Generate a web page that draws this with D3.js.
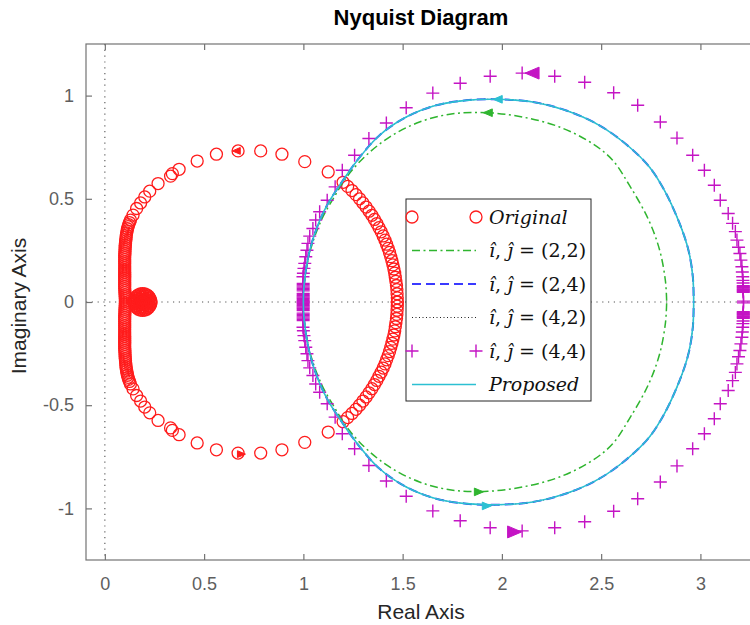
<!DOCTYPE html>
<html>
<head>
<meta charset="utf-8">
<script src="https://cdn.jsdelivr.net/npm/d3@7"></script>
<style>
  body { margin: 0; background: #fff; }
  svg { display: block; }
</style>
</head>
<body>
<svg id="chart" width="750" height="625"></svg>
<script>
"use strict";

// axis ticks
const x_ticks = [0, 0.5, 1, 1.5, 2, 2.5, 3];
const y_ticks = [-1, -0.5, 0, 0.5, 1];

// Original response, upper branch as [re, im]; lower branch is the mirror
const original = [
  [1.473, 0.000], [1.473, 0.020], [1.472, 0.040], [1.471, 0.060], [1.469, 0.080],
  [1.466, 0.100], [1.463, 0.120], [1.460, 0.140], [1.456, 0.160], [1.451, 0.180],
  [1.446, 0.200], [1.440, 0.220], [1.434, 0.240], [1.427, 0.260], [1.419, 0.280],
  [1.411, 0.300], [1.402, 0.320], [1.392, 0.340], [1.381, 0.360], [1.370, 0.380],
  [1.358, 0.400], [1.345, 0.420], [1.331, 0.440], [1.316, 0.460], [1.300, 0.480],
  [1.283, 0.500], [1.265, 0.520], [1.245, 0.540], [1.223, 0.560], [1.200, 0.580],
  [1.125, 0.630], [1.007, 0.680], [0.892, 0.716], [0.785, 0.732], [0.671, 0.732],
  [0.562, 0.716], [0.465, 0.683], [0.374, 0.643], [0.340, 0.622], [0.331, 0.610],
  [0.268, 0.574], [0.226, 0.537], [0.201, 0.509], [0.180, 0.480], [0.160, 0.453],
  [0.142, 0.421], [0.129, 0.397], [0.124, 0.385], [0.120, 0.375], [0.117, 0.365],
  [0.114, 0.355], [0.112, 0.345], [0.110, 0.335], [0.108, 0.325], [0.107, 0.315],
  [0.106, 0.305], [0.105, 0.295], [0.104, 0.285], [0.103, 0.275], [0.102, 0.265],
  [0.102, 0.255], [0.101, 0.245], [0.101, 0.235], [0.100, 0.225], [0.100, 0.215],
  [0.100, 0.205], [0.100, 0.195], [0.100, 0.185], [0.100, 0.175], [0.100, 0.165],
  [0.100, 0.155], [0.100, 0.145], [0.100, 0.135], [0.100, 0.125], [0.100, 0.115],
  [0.100, 0.105], [0.100, 0.095], [0.100, 0.085], [0.100, 0.075], [0.100, 0.065],
  [0.101, 0.055], [0.101, 0.045], [0.102, 0.035], [0.102, 0.025], [0.103, 0.015],
  [0.103, 0.005], [0.148, 0.000], [0.149, 0.010], [0.154, 0.020], [0.160, 0.028],
  [0.169, 0.035], [0.179, 0.039], [0.190, 0.040], [0.201, 0.039], [0.211, 0.035],
  [0.220, 0.028], [0.226, 0.020], [0.231, 0.010], [0.232, 0.000], [0.221, 0.000],
  [0.218, 0.016], [0.206, 0.027], [0.190, 0.031], [0.174, 0.027], [0.162, 0.016],
  [0.159, 0.000], [0.211, 0.000], [0.205, 0.015], [0.190, 0.021], [0.175, 0.015],
  [0.169, 0.000], [0.200, 0.006], [0.180, 0.006], [0.190, 0.010], [0.190, 0.000]
];

// (2,2) reduced model
const red_22 = [
  [1.000, 0.000], [1.006, 0.100], [1.035, 0.250], [1.092, 0.400], [1.150, 0.500],
  [1.225, 0.614], [1.317, 0.711], [1.434, 0.799], [1.585, 0.872], [1.753, 0.912],
  [1.929, 0.917], [2.105, 0.896], [2.290, 0.848], [2.457, 0.767], [2.558, 0.687],
  [2.642, 0.566], [2.738, 0.400], [2.795, 0.250], [2.824, 0.100], [2.830, 0.000]
];

// Proposed model; (2,4) and (4,2) lie on top of it at this scale
const proposed = [
  [1.000, 0.000], [1.005, 0.100], [1.032, 0.250], [1.076, 0.380], [1.120, 0.470],
  [1.172, 0.550], [1.272, 0.687], [1.384, 0.808], [1.518, 0.896], [1.669, 0.953],
  [1.820, 0.977], [1.979, 0.982], [2.156, 0.969], [2.324, 0.928], [2.491, 0.856],
  [2.642, 0.751], [2.743, 0.654], [2.818, 0.542], [2.895, 0.381], [2.940, 0.250],
  [2.962, 0.120], [2.966, 0.000]
];
const red_24 = proposed;
const red_42 = proposed;

// (4,4) reduced model, markers only
const red_44 = [
  [0.999, 0.000], [0.999, 0.006], [0.999, 0.012], [0.999, 0.018], [0.999, 0.024],
  [0.999, 0.030], [0.999, 0.036], [0.999, 0.042], [0.999, 0.054], [0.999, 0.060],
  [0.999, 0.066], [0.999, 0.072], [0.999, 0.078], [0.999, 0.084], [0.999, 0.090],
  [0.998, 0.122], [1.000, 0.139], [1.003, 0.163], [1.007, 0.187], [1.012, 0.219],
  [1.018, 0.251], [1.023, 0.284], [1.032, 0.319], [1.048, 0.356], [1.062, 0.397],
  [1.082, 0.437], [1.120, 0.493], [1.160, 0.558], [1.196, 0.638], [1.258, 0.711],
  [1.330, 0.792], [1.418, 0.867], [1.518, 0.941], [1.652, 1.012], [1.790, 1.060],
  [1.941, 1.094], [2.102, 1.109], [2.266, 1.094], [2.417, 1.065], [2.563, 1.014],
  [2.684, 0.953], [2.798, 0.872], [2.882, 0.794], [2.961, 0.711], [3.020, 0.638],
  [3.070, 0.566], [3.100, 0.493], [3.140, 0.429], [3.162, 0.381], [3.176, 0.341],
  [3.184, 0.300], [3.192, 0.265], [3.199, 0.235], [3.204, 0.203], [3.209, 0.171],
  [3.211, 0.145], [3.213, 0.122], [3.214, 0.105], [3.215, 0.092], [3.216, 0.079],
  [3.216, 0.075], [3.216, 0.071], [3.216, 0.067], [3.216, 0.063], [3.216, 0.059],
  [3.216, 0.055], [3.216, 0.051], [3.216, 0.047], [3.217, 0.004]
];

// direction arrows [re, im, dir] (dir -1 points left, 1 points right)
const arrows_orig = [[0.662, 0.732, -1], [0.688, -0.737, 1]];
const arrows_22 = [[1.929, 0.917, -1], [1.884, -0.920, 1]];
const arrows_prop = [[1.979, 0.982, -1], [1.924, -0.988, 1]];
const arrows_44 = [[2.152, 1.109, -1], [2.064, -1.114, 1]];

const legend_labels = [
  [{t: "Original", it: true}],
  [{t: "î", it: true}, {t: ", "}, {t: "ĵ", it: true}, {t: " = (2,2)"}],
  [{t: "î", it: true}, {t: ", "}, {t: "ĵ", it: true}, {t: " = (2,4)"}],
  [{t: "î", it: true}, {t: ", "}, {t: "ĵ", it: true}, {t: " = (4,2)"}],
  [{t: "î", it: true}, {t: ", "}, {t: "ĵ", it: true}, {t: " = (4,4)"}],
  [{t: "Proposed", it: true}]
];

/**
 * Draws the Nyquist diagram
 */
class NyquistView
{
    constructor(svg)
    {
        this._svg = svg;
        this._left = 86;
        this._top = 44;
        this._bottom = 560;
        this._right = 756;
        this._x = d3.scaleLinear().domain([-0.095, 3.28]).range([this._left, this._right]);
        this._y = d3.scaleLinear().domain([-1.25, 1.25]).range([this._bottom, this._top]);
        this._series = [
            {kind: "marker", mark: "o", pts: original, arrows: arrows_orig, color: "#ff1c1c", arrow_size: 4},
            {kind: "line", pts: red_22, arrows: arrows_22, color: "#2fb52f", dash: "8,3.5,2,3.5", width: 1.5, arrow_size: 4.5},
            {kind: "line", pts: red_24, arrows: [], color: "#3a3aff", dash: "9,5", width: 2, arrow_size: 4.5},
            {kind: "line", pts: red_42, arrows: [], color: "#222", dash: "1,2.5", width: 1, arrow_size: 4.5},
            {kind: "marker", mark: "+", pts: red_44, arrows: arrows_44, color: "#c414c4", arrow_size: 7},
            {kind: "line", pts: proposed, arrows: arrows_prop, color: "#2cc0d2", dash: null, width: 1.6, arrow_size: 4.5}
        ];
    }

    mirror(pts)
    {
        return pts.map(p => [p[0], -p[1]]);
    }

    drawAxes()
    {
        let svg = this._svg;
        let x = this._x, y = this._y;
        let fmt = d => String(d);

        svg.append("text")
           .attr("x", 421).attr("y", 25)
           .attr("text-anchor", "middle")
           .style("font", "bold 22px 'Liberation Sans', Arial, sans-serif")
           .text("Nyquist Diagram");

        // zero lines
        let zero = svg.append("g").attr("stroke", "#555").attr("stroke-width", 1.1).attr("stroke-dasharray", "1.2,4.6");
        zero.append("line").attr("x1", x(0)).attr("x2", x(0)).attr("y1", this._top).attr("y2", this._bottom);
        zero.append("line").attr("x1", this._left).attr("x2", this._right).attr("y1", y(0)).attr("y2", y(0));

        let ax_b = svg.append("g").attr("transform", "translate(0," + this._bottom + ")")
                      .call(d3.axisBottom(x).tickValues(x_ticks).tickFormat(fmt).tickSize(-6).tickPadding(17));
        let ax_t = svg.append("g").attr("transform", "translate(0," + this._top + ")")
                      .call(d3.axisTop(x).tickValues(x_ticks).tickFormat("").tickSize(-6));
        let ax_l = svg.append("g").attr("transform", "translate(" + this._left + ",0)")
                      .call(d3.axisLeft(y).tickValues(y_ticks).tickFormat(fmt).tickSize(-6).tickPadding(12));
        for (let g of [ax_b, ax_t, ax_l])
        {
            g.select(".domain").remove();
            g.selectAll("line").attr("stroke", "#737373").attr("stroke-width", 1.2);
            g.selectAll("text").attr("fill", "#5e5e5e")
             .style("font-size", "18px").style("font-family", "'Liberation Sans', Arial, sans-serif");
        }

        svg.append("rect")
           .attr("x", this._left).attr("y", this._top)
           .attr("width", this._right - this._left).attr("height", this._bottom - this._top)
           .attr("fill", "none").attr("stroke", "#737373").attr("stroke-width", 1.2);

        svg.append("text")
           .attr("x", 421).attr("y", 619)
           .attr("text-anchor", "middle").attr("fill", "#262626")
           .style("font", "21px 'Liberation Sans', Arial, sans-serif")
           .text("Real Axis");

        svg.append("text")
           .attr("transform", "translate(26,306) rotate(-90)")
           .attr("text-anchor", "middle").attr("fill", "#262626")
           .style("font", "21px 'Liberation Sans', Arial, sans-serif")
           .text("Imaginary Axis");
    }

    drawMarker(g, kind, color, cx, cy)
    {
        if (kind == "o")
            g.append("circle").attr("cx", cx).attr("cy", cy).attr("r", 6)
             .attr("fill", "none").attr("stroke", color).attr("stroke-width", 1.3);
        else
            g.append("path").attr("d", "M" + (cx - 6.5) + "," + cy + "h13M" + cx + "," + (cy - 6.5) + "v13")
             .attr("fill", "none").attr("stroke", color).attr("stroke-width", 1.4);
    }

    drawSeries()
    {
        let x = this._x, y = this._y;
        let line = d3.line().x(d => x(d[0])).y(d => y(d[1])).curve(d3.curveCatmullRom);
        let plot = this._svg.append("g");

        for (let s of this._series)
        {
            let g = plot.append("g");
            let branches = [s.pts, this.mirror(s.pts)];
            if (s.kind == "line")
            {
                for (let b of branches)
                    g.append("path").attr("d", line(b)).attr("fill", "none")
                     .attr("stroke", s.color).attr("stroke-width", s.width)
                     .attr("stroke-dasharray", s.dash);
            }
            else
            {
                for (let b of branches)
                    for (let p of b)
                        this.drawMarker(g, s.mark, s.color, x(p[0]), y(p[1]));
            }

            for (let a of s.arrows)
            {
                let cx = x(a[0]), cy = y(a[1]), k = s.arrow_size, d = a[2];
                g.append("path")
                 .attr("d", "M" + (cx + d * k) + "," + cy + "L" + (cx - d * k) + "," + (cy - k * 0.85) +
                            "L" + (cx - d * k) + "," + (cy + k * 0.85) + "Z")
                 .attr("fill", s.color).attr("stroke", s.color).attr("stroke-width", 1);
            }
        }
    }

    drawLegend()
    {
        let g = this._svg.append("g");
        let lx = 406, ly = 199, lw = 185, lh = 202;
        let row0 = 217, step = 33.5;
        g.append("rect").attr("x", lx).attr("y", ly).attr("width", lw).attr("height", lh)
         .attr("fill", "#fff").attr("stroke", "#262626").attr("stroke-width", 1);

        this._series.forEach((s, i) =>
        {
            let cy = row0 + i * step;
            if (s.kind == "line")
                g.append("line").attr("x1", 412).attr("x2", 476).attr("y1", cy).attr("y2", cy)
                 .attr("stroke", s.color).attr("stroke-width", s.width)
                 .attr("stroke-dasharray", s.dash);
            else
            {
                this.drawMarker(g, s.mark, s.color, 412, cy);
                this.drawMarker(g, s.mark, s.color, 476, cy);
            }
            let t = g.append("text").attr("x", 489).attr("y", cy + 6.5)
                     .attr("fill", "#111")
                     .style("font-size", "19px").style("font-family", "'DejaVu Serif', serif");
            for (let part of legend_labels[i])
                t.append("tspan").attr("font-style", part.it ? "italic" : "normal").text(part.t);
        });
    }
}

let view = new NyquistView(d3.select("#chart"));
view.drawAxes();
view.drawSeries();
view.drawLegend();
</script>
</body>
</html>
